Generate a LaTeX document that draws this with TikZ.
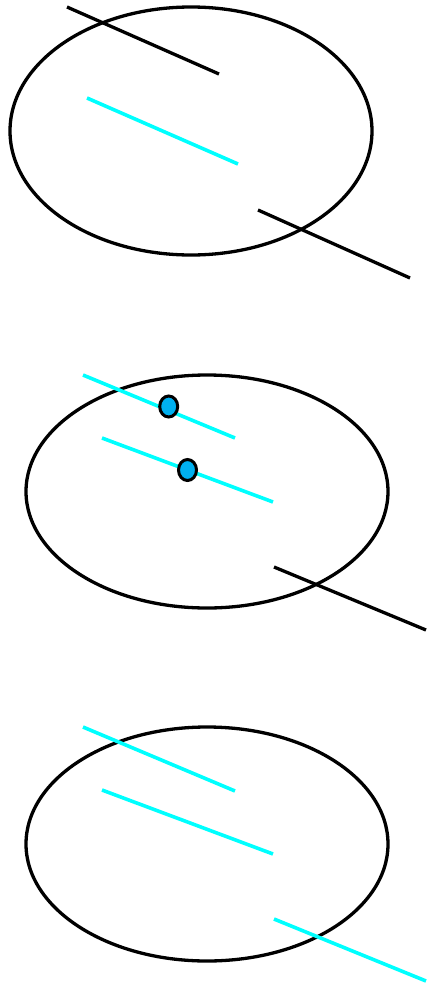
\documentclass[tikz,border=0pt]{standalone}
\usetikzlibrary{shapes.geometric}
\definecolor{dotblue}{RGB}{0,176,240}
\definecolor{aqua}{RGB}{0,255,255}
\begin{document}
\begin{tikzpicture}[x=1pt,y=-1pt,
  oval/.style={draw=black,line width=3.3pt},
  blk/.style={draw=black,line width=3.3pt},
  cyn/.style={draw=aqua,line width=3.6pt},
  pin/.style={draw=black,line width=3pt,fill=dotblue}]
\useasboundingbox (0,0) rectangle (426,985);
% top
\draw[oval] (191,131) ellipse [x radius=181, y radius=124];
\draw[blk] (67,7) -- (219,74);
\draw[cyn] (87,98) -- (238,164);
\draw[blk] (258,210) -- (410,278);
% middle
\draw[oval] (207,491.5) ellipse [x radius=181, y radius=116.5];
\draw[cyn] (83,375) -- (235,438);
\draw[cyn] (102,438) -- (273,502);
\draw[blk] (274,567) -- (426,630);
\draw[pin] (168.7,406.5) ellipse [x radius=9, y radius=10.5];
\draw[pin] (187.5,470) ellipse [x radius=9, y radius=10.5];
% bottom
\draw[oval] (207,844) ellipse [x radius=181, y radius=117];
\draw[cyn] (83,727) -- (235,791);
\draw[cyn] (102,790) -- (273,854);
\draw[cyn] (274,919) -- (426,981);
\end{tikzpicture}
\end{document}
